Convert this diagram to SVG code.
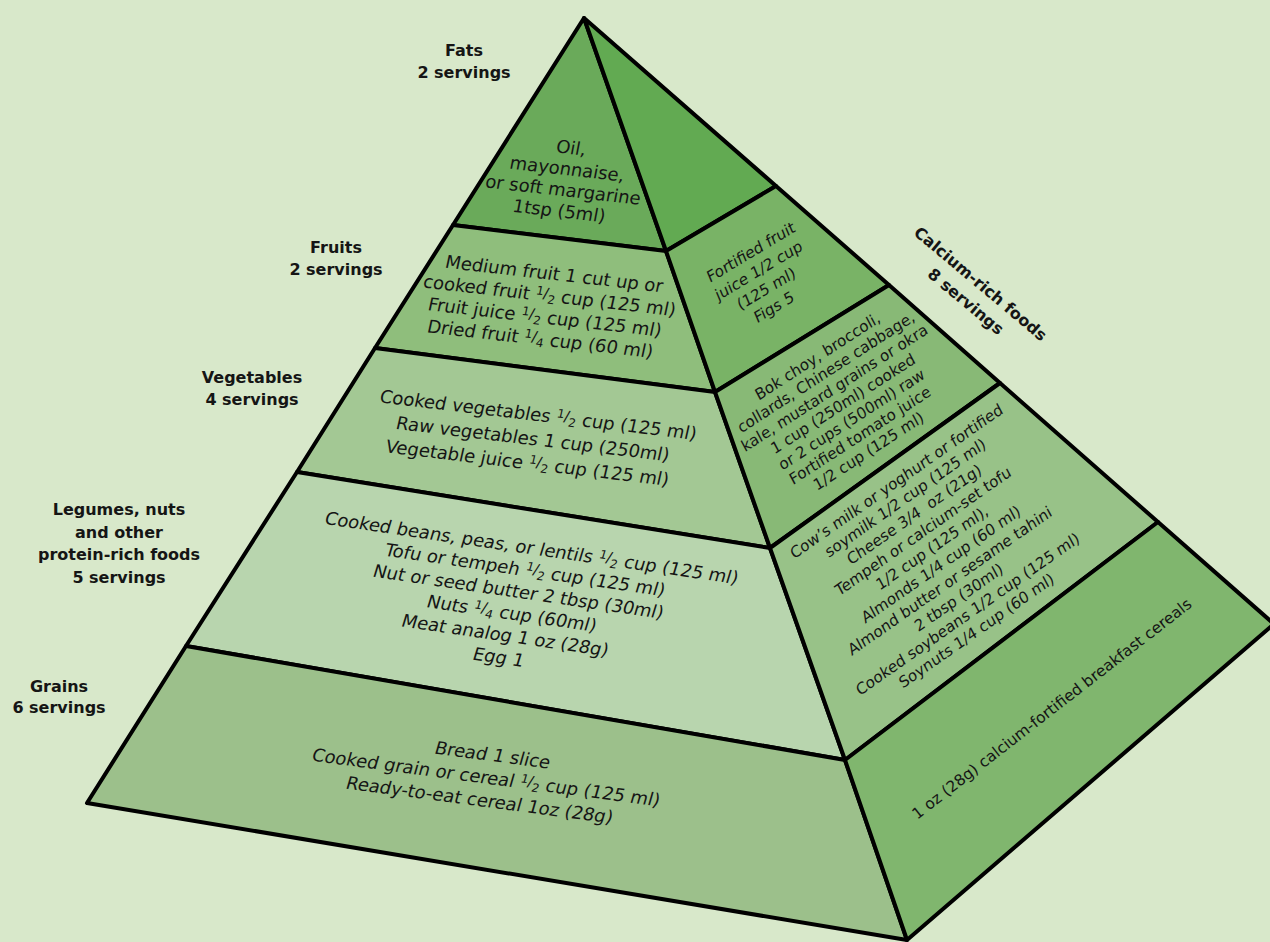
<svg xmlns="http://www.w3.org/2000/svg" width="1270" height="942" viewBox="0 0 1270 942">
<style>
.face{stroke:#000;stroke-width:4;stroke-linejoin:round}
text{font-family:"DejaVu Sans","Liberation Sans",sans-serif;fill:#151515}
.lf{font-size:18px;text-anchor:middle}
.rf{font-size:15.5px;text-anchor:middle}
.lbl{font-size:16px;font-weight:bold;text-anchor:middle}
.fr{font-size:12px}
.sl{font-size:15px}
</style>
<rect width="1270" height="942" fill="#d8e8ca"/>

<g id="fats">
<polygon class="face" fill="#6aaa5a" points="584,18 453,225 666,251"/>
<g transform="matrix(0.9936,0.1132,-0.187,0.982,570,154)">
<text class="lf" x="0" y="0">Oil,</text>
<text class="lf" x="0" y="21.4">mayonnaise,</text>
<text class="lf" x="0" y="42.8">or soft margarine</text>
<text class="lf" x="0" y="64.2">1tsp (5ml)</text>
</g>
</g>

<g id="fruits">
<polygon class="face" fill="#8fbe7c" points="453,225 375,348 715,392 666,251"/>
<g transform="matrix(0.9936,0.1132,-0.212,0.977,553,280)">
<text class="lf" x="0" y="0">Medium fruit 1 cut up or</text>
<text class="lf" x="0" y="22.2">cooked fruit <tspan class="fr" dy="-6">1</tspan><tspan class="sl" dy="3">/</tspan><tspan class="fr" dy="5">2</tspan><tspan dy="-2"> cup (125 ml)</tspan></text>
<text class="lf" x="0" y="44.4">Fruit juice <tspan class="fr" dy="-6">1</tspan><tspan class="sl" dy="3">/</tspan><tspan class="fr" dy="5">2</tspan><tspan dy="-2"> cup (125 ml)</tspan></text>
<text class="lf" x="0" y="66.6">Dried fruit <tspan class="fr" dy="-6">1</tspan><tspan class="sl" dy="3">/</tspan><tspan class="fr" dy="5">4</tspan><tspan dy="-2"> cup (60 ml)</tspan></text>
</g>
</g>

<g id="vegetables">
<polygon class="face" fill="#a3c894" points="375,348 297,472 770,548 715,392"/>
<g transform="matrix(0.993,0.118,-0.224,0.975,537,421)">
<text class="lf" x="0" y="0">Cooked vegetables <tspan class="fr" dy="-6">1</tspan><tspan class="sl" dy="3">/</tspan><tspan class="fr" dy="5">2</tspan><tspan dy="-2"> cup (125 ml)</tspan></text>
<text class="lf" x="0" y="24.6">Raw vegetables 1 cup (250ml)</text>
<text class="lf" x="0" y="49.2">Vegetable juice <tspan class="fr" dy="-6">1</tspan><tspan class="sl" dy="3">/</tspan><tspan class="fr" dy="5">2</tspan><tspan dy="-2"> cup (125 ml)</tspan></text>
</g>
</g>

<g id="legumes">
<polygon class="face" fill="#b8d5ae" points="297,472 186,646 845,760 770,548"/>
<g transform="matrix(0.9895,0.1444,-0.29,0.957,530,554)">
<text class="lf" x="0" y="0">Cooked beans, peas, or lentils <tspan class="fr" dy="-6">1</tspan><tspan class="sl" dy="3">/</tspan><tspan class="fr" dy="5">2</tspan><tspan dy="-2"> cup (125 ml)</tspan></text>
<text class="lf" x="0" y="22.8">Tofu or tempeh <tspan class="fr" dy="-6">1</tspan><tspan class="sl" dy="3">/</tspan><tspan class="fr" dy="5">2</tspan><tspan dy="-2"> cup (125 ml)</tspan></text>
<text class="lf" x="0" y="45.6">Nut or seed butter 2 tbsp (30ml)</text>
<text class="lf" x="0" y="68.4">Nuts <tspan class="fr" dy="-6">1</tspan><tspan class="sl" dy="3">/</tspan><tspan class="fr" dy="5">4</tspan><tspan dy="-2"> cup (60ml)</tspan></text>
<text class="lf" x="0" y="91.2">Meat analog 1 oz (28g)</text>
<text class="lf" x="0" y="114">Egg 1</text>
</g>
</g>

<g id="grains">
<polygon class="face" fill="#9cc08b" points="186,646 87,803 907,940 845,760"/>
<g transform="matrix(0.9914,0.1305,-0.278,0.961,491,761)">
<text class="lf" x="0" y="0">Bread 1 slice</text>
<text class="lf" x="0" y="23.4">Cooked grain or cereal <tspan class="fr" dy="-6">1</tspan><tspan class="sl" dy="3">/</tspan><tspan class="fr" dy="5">2</tspan><tspan dy="-2"> cup (125 ml)</tspan></text>
<text class="lf" x="0" y="46.8">Ready-to-eat cereal 1oz (28g)</text>
</g>
</g>

<g id="calcium-top">
<polygon class="face" fill="#62aa52" points="584,18 666,251 776,186"/>
</g>

<g id="fortified-juice">
<polygon class="face" fill="#79b366" points="666,251 715,392 889,285 776,186"/>
<g transform="matrix(0.857,-0.515,0.388,0.922,753,257)">
<text class="rf" x="0" y="0">Fortified fruit</text>
<text class="rf" x="0" y="19.85">juice 1/2 cup</text>
<text class="rf" x="0" y="39.7">(125 ml)</text>
<text class="rf" x="0" y="59.55">Figs 5</text>
</g>
</g>

<g id="greens">
<polygon class="face" fill="#88b976" points="715,392 770,548 1000,383 889,285"/>
<g transform="matrix(0.8387,-0.5446,0.474,0.881,820,361)">
<text class="rf" x="0" y="0">Bok choy, broccoli,</text>
<text class="rf" x="0" y="17.94">collards, Chinese cabbage,</text>
<text class="rf" x="0" y="35.88">kale, mustard grains or okra</text>
<text class="rf" x="0" y="53.82">1 cup (250ml) cooked</text>
<text class="rf" x="0" y="71.76">or 2 cups (500ml) raw</text>
<text class="rf" x="0" y="89.7">Fortified tomato juice</text>
<text class="rf" x="0" y="107.64">1/2 cup (125 ml)</text>
</g>
</g>

<g id="dairy-soy">
<polygon class="face" fill="#98c288" points="770,548 845,760 1158,522 1000,383"/>
<g transform="matrix(0.8192,-0.5736,0.472,0.881,899,486)">
<text class="rf" x="0" y="0">Cow’s milk or yoghurt or fortified</text>
<text class="rf" x="0" y="18.84">soymilk 1/2 cup (125 ml)</text>
<text class="rf" x="0" y="37.68">Cheese 3/4<tspan dx="5"> oz (21g)</tspan></text>
<text class="rf" x="0" y="56.52">Tempeh or calcium-set tofu</text>
<text class="rf" x="0" y="75.36">1/2 cup (125 ml),</text>
<text class="rf" x="0" y="94.2">Almonds 1/4 cup (60 ml)</text>
<text class="rf" x="0" y="113.04">Almond butter or sesame tahini</text>
<text class="rf" x="0" y="131.88">2 tbsp (30ml)</text>
<text class="rf" x="0" y="150.72">Cooked soybeans 1/2 cup (125 ml)</text>
<text class="rf" x="0" y="169.56">Soynuts 1/4 cup (60 ml)</text>
</g>
</g>

<g id="cereals">
<polygon class="face" fill="#80b66e" points="845,760 907,940 1274,624 1158,522"/>
<text class="rf" transform="translate(1055,713) rotate(-37.8)">1 oz (28g) calcium-fortified breakfast cereals</text>
</g>

<g id="label-fats"><text class="lbl" x="464" y="56">Fats</text><text class="lbl" x="464" y="78">2 servings</text></g>
<g id="label-fruits"><text class="lbl" x="336" y="253">Fruits</text><text class="lbl" x="336" y="275">2 servings</text></g>
<g id="label-vegetables"><text class="lbl" x="252" y="383">Vegetables</text><text class="lbl" x="252" y="405">4 servings</text></g>
<g id="label-legumes"><text class="lbl" x="119" y="515">Legumes, nuts</text><text class="lbl" x="119" y="538">and other</text><text class="lbl" x="119" y="560">protein-rich foods</text><text class="lbl" x="119" y="583">5 servings</text></g>
<g id="label-grains"><text class="lbl" x="59" y="692">Grains</text><text class="lbl" x="59" y="713">6 servings</text></g>
<g id="label-calcium" transform="translate(977,288) rotate(40)"><text class="lbl" x="0" y="0">Calcium-rich foods</text><text class="lbl" x="0" y="23">8 servings</text></g>

<g id="connectors"></g>
</svg>
